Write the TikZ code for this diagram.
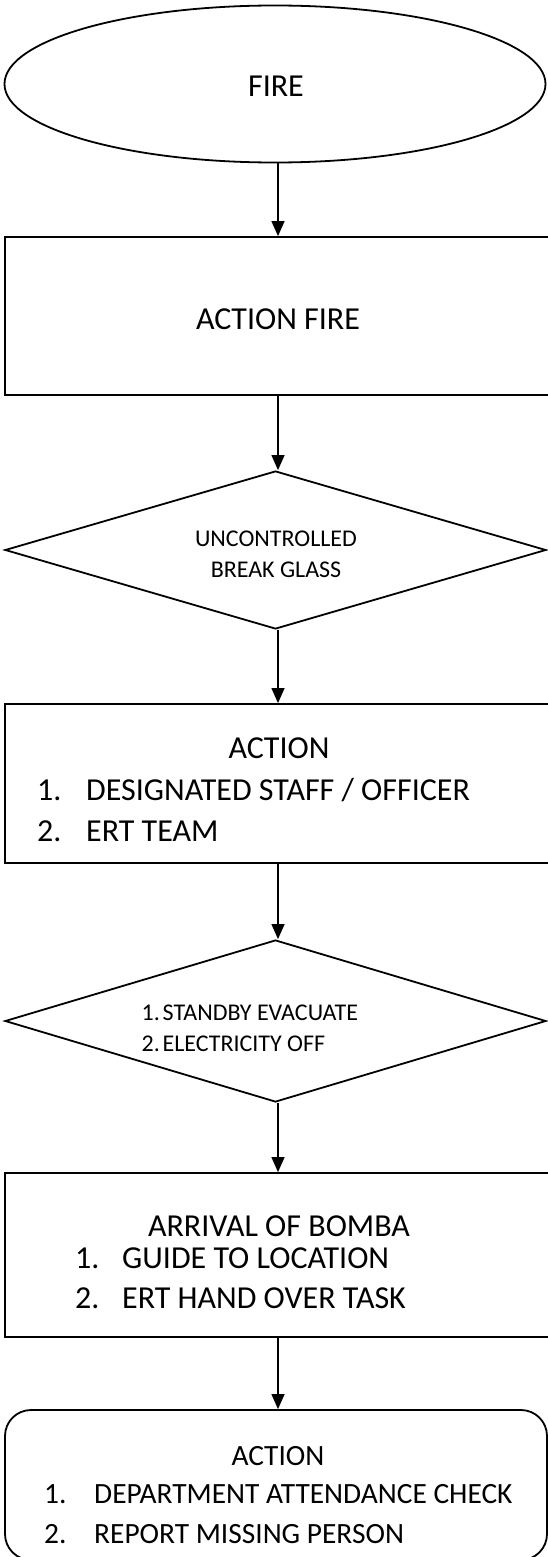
\documentclass[tikz,border=0pt]{standalone}
\usepackage{fontspec}
\setmainfont{Carlito}
\usetikzlibrary{shapes.geometric,arrows.meta}
\begin{document}
\begin{tikzpicture}[x=1pt,y=-1pt,
  shapeline/.style={draw=black,line width=1.8pt,inner sep=0pt},
  stepbox/.style={shapeline,rectangle,minimum width=546pt},
  endbox/.style={shapeline,rectangle,rounded corners=26pt,minimum width=542pt},
  decision/.style={shapeline,diamond,minimum width=541pt},
  terminal/.style={shapeline,ellipse,minimum width=541pt,minimum height=157pt},
  flow/.style={draw=black,line width=1.3pt,-{Triangle[length=15pt,width=13pt]}},
  big/.style={inner sep=0pt,font=\fontsize{32}{38}\selectfont},
  mid/.style={inner sep=0pt,font=\fontsize{29.4}{35}\selectfont},
  small/.style={inner sep=0pt,font=\fontsize{24}{29}\selectfont}
]
\clip (0,0) rectangle (548,1557);
\fill[white] (0,0) rectangle (548,1557);

% shapes
\node[terminal] (fire) at (275,84) {};
\node[stepbox,minimum height=158pt] (actfire) at (278,316) {};
\node[decision,minimum height=158pt] (glass) at (275.5,550) {};
\node[stepbox,minimum height=159pt] (action) at (278,783.5) {};
\node[decision,minimum height=162pt] (standby) at (275.5,1021) {};
\node[stepbox,minimum height=164pt] (bomba) at (278,1255) {};
\node[endbox,minimum height=150pt] (check) at (276,1485) {};

% texts
\node[big,anchor=base] (tfire) at (276,97) {FIRE};
\node[big,anchor=base] (tactfire) at (278,329) {ACTION FIRE};

\node[small,anchor=base] (tg1) at (276,546) {UNCONTROLLED};
\node[small,anchor=base] (tg2) at (276,577) {BREAK GLASS};

\node[big,anchor=base] (ta0) at (279,758) {ACTION};
\node[big,anchor=base west] (ta1n) at (37,800) {1.};
\node[big,anchor=base west] (ta1) at (86,800) {DESIGNATED STAFF / OFFICER};
\node[big,anchor=base west] (ta2n) at (37,841) {2.};
\node[big,anchor=base west] (ta2) at (86,841) {ERT TEAM};

\node[small,anchor=base west] (ts1n) at (141.5,1020) {1.};
\node[small,anchor=base west] (ts1) at (162.5,1020) {STANDBY EVACUATE};
\node[small,anchor=base west] (ts2n) at (141.5,1051) {2.};
\node[small,anchor=base west] (ts2) at (162.5,1051) {ELECTRICITY OFF};

\node[big,anchor=base] (tb0) at (279,1236) {ARRIVAL OF BOMBA};
\node[big,anchor=base west] (tb1n) at (75,1268) {1.};
\node[big,anchor=base west] (tb1) at (122,1268) {GUIDE TO LOCATION};
\node[big,anchor=base west] (tb2n) at (75,1308) {2.};
\node[big,anchor=base west] (tb2) at (122,1308) {ERT HAND OVER TASK};

\node[mid,anchor=base] (tc0) at (278,1465.5) {ACTION};
\node[mid,anchor=base west] (tc1n) at (44,1503) {1.};
\node[mid,anchor=base west] (tc1) at (94,1503) {DEPARTMENT ATTENDANCE CHECK};
\node[mid,anchor=base west] (tc2n) at (44,1543.5) {2.};
\node[mid,anchor=base west] (tc2) at (94,1543.5) {REPORT MISSING PERSON};

% connectors
\draw[flow] (fire.south -| actfire.north) -- (actfire.north);
\draw[flow] (actfire.south) -- (actfire.south |- glass.north);
\draw[flow] (glass.south -| action.north) -- (action.north);
\draw[flow] (action.south) -- (action.south |- standby.north);
\draw[flow] (standby.south -| bomba.north) -- (bomba.north);
\draw[flow] (bomba.south) -- (bomba.south |- check.north);
\end{tikzpicture}
\end{document}
